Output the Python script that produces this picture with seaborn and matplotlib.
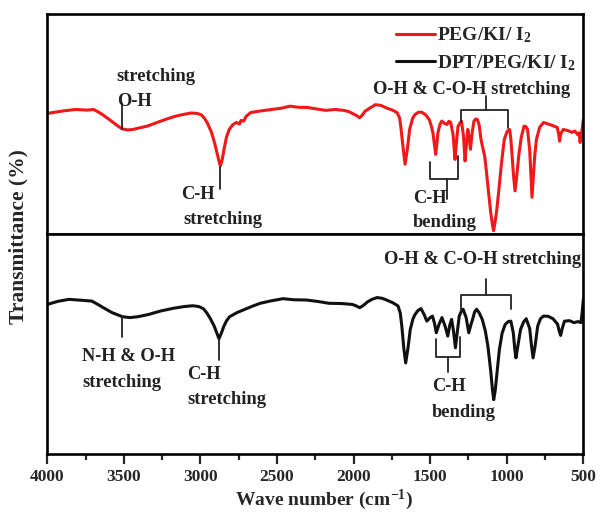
import numpy as np
import pandas as pd
import matplotlib
matplotlib.use("Agg")
import matplotlib.pyplot as plt
import seaborn as sns
from matplotlib.lines import Line2D

# ---- data ----
wn_top = [4000, 3900, 3815, 3740, 3698, 3670, 3640, 3610, 3581, 3545, 3512, 3475, 3441,
          3400, 3349, 3290, 3231, 3170, 3115, 3060, 3022, 2995, 2977, 2955, 2928, 2910,
          2893, 2880, 2870, 2858, 2846, 2830, 2812, 2790, 2765, 2745, 2735, 2718, 2700,
          2672, 2600, 2533, 2470, 2415, 2360, 2298, 2240, 2182, 2120, 2065, 2030, 1995,
          1975, 1961, 1945, 1925, 1890, 1856, 1820, 1786, 1750, 1716, 1700, 1692, 1678,
          1664, 1650, 1634, 1615, 1599, 1575, 1553, 1530, 1506, 1492, 1482, 1472, 1464,
          1456, 1449, 1435, 1424, 1405, 1390, 1378, 1366, 1350, 1338, 1328, 1318, 1305,
          1296, 1283, 1272, 1262, 1254, 1245, 1237, 1225, 1214, 1202, 1191, 1180, 1168,
          1156, 1144, 1132, 1121, 1105, 1093, 1086, 1078, 1065, 1051, 1033, 1016, 998,
          981, 973, 965, 955, 946, 935, 922, 905, 887, 875, 864, 850, 840, 835, 828, 818,
          806, 785, 759, 725, 689, 670, 660, 655, 648, 631, 600, 574, 555, 538, 528, 521,
          512, 500]
t_top = [54.8, 55.9, 56.6, 56.3, 56.6, 55.6, 54.3, 52.8, 51.3, 49.4, 47.8, 47.3, 47.5,
         48.2, 49.0, 50.5, 52.0, 53.4, 54.3, 55.0, 54.8, 54.2, 52.9, 50.5, 46.2, 42.0,
         37.1, 33.5, 30.9, 33.8, 38.5, 44.0, 47.5, 49.6, 50.7, 50.0, 51.6, 51.3, 53.6,
         55.2, 56.0, 56.6, 57.2, 58.1, 57.6, 57.5, 56.8, 56.2, 56.6, 56.2, 55.6, 54.3,
         53.6, 52.8, 53.9, 55.8, 57.4, 58.8, 58.4, 57.3, 56.4, 55.2, 52.8, 49.0, 40.0,
         31.7, 38.0, 47.5, 52.5, 54.3, 55.4, 55.3, 54.2, 52.0, 49.0, 46.0, 40.5, 36.2,
         41.0, 46.2, 50.0, 51.3, 50.2, 49.8, 51.2, 50.7, 45.0, 33.9, 42.0, 49.0, 50.4,
         51.3, 45.0, 33.2, 42.0, 47.5, 43.5, 38.5, 46.5, 51.3, 52.3, 52.0, 49.5, 43.0,
         39.0, 35.4, 28.0, 20.4, 10.0, 4.0, 1.5, 4.5, 11.0, 20.4, 33.0, 43.0, 46.5,
         47.5, 43.0, 35.4, 26.0, 19.6, 26.0, 35.4, 44.0, 49.0, 48.8, 47.5, 38.0, 24.0,
         16.7, 24.0, 35.0, 43.0, 48.5, 50.7, 49.9, 49.0, 48.4, 45.0, 42.2, 45.5, 47.5,
         47.0, 46.2, 46.8, 45.2, 46.0, 41.6, 45.5, 52.0]

wn_bot = [4000, 3930, 3859, 3780, 3709, 3670, 3634, 3575, 3509, 3460, 3409, 3340, 3260,
          3180, 3109, 3050, 3009, 2980, 2959, 2935, 2910, 2893, 2879, 2863, 2847, 2830,
          2810, 2760, 2709, 2660, 2610, 2540, 2460, 2390, 2309, 2230, 2160, 2080, 2010,
          1985, 1960, 1935, 1910, 1880, 1847, 1815, 1785, 1745, 1710, 1695, 1685, 1672,
          1660, 1645, 1630, 1612, 1598, 1580, 1560, 1540, 1522, 1500, 1485, 1472, 1460,
          1442, 1423, 1402, 1385, 1372, 1360, 1348, 1335, 1322, 1310, 1296, 1285, 1265,
          1248, 1235, 1223, 1210, 1197, 1180, 1160, 1140, 1123, 1105, 1093, 1085, 1075,
          1062, 1048, 1030, 1010, 990, 973, 957, 948, 940, 930, 910, 890, 873, 850, 838,
          828, 815, 798, 780, 760, 730, 698, 668, 658, 648, 638, 623, 590, 561, 535, 516,
          508, 500]
t_bot = [68.0, 69.4, 70.3, 69.9, 69.5, 68.0, 66.5, 64.2, 62.4, 62.0, 62.4, 63.4, 65.0,
         66.2, 67.0, 67.4, 67.0, 66.0, 64.2, 61.5, 58.1, 55.0, 52.4, 55.0, 58.1, 60.5,
         62.4, 64.3, 65.8, 67.2, 68.5, 69.6, 70.6, 70.1, 70.0, 69.3, 68.5, 68.4, 68.0,
         67.4, 66.5, 67.6, 69.1, 70.3, 71.1, 70.8, 70.0, 68.8, 67.3, 64.0, 58.1, 48.0,
         41.4, 48.0, 56.6, 61.5, 63.5, 65.2, 66.1, 63.5, 60.4, 62.0, 62.7, 59.5, 55.1,
         59.0, 62.0, 58.0, 53.6, 58.5, 61.2, 56.0, 48.3, 56.0, 62.7, 65.0, 65.8, 62.0,
         55.1, 58.5, 61.2, 64.5, 65.8, 64.2, 61.2, 56.0, 49.0, 38.0, 29.0, 24.7, 29.0,
         38.0, 47.5, 55.0, 58.9, 60.2, 60.4, 55.0, 48.0, 43.7, 48.0, 56.6, 60.0, 61.5,
         57.0, 49.0, 43.7, 49.0, 58.1, 61.5, 62.7, 62.6, 61.5, 59.0, 56.0, 53.9, 57.0,
         60.4, 60.6, 59.7, 60.2, 59.7, 64.0, 70.3]

series_labels = ["PEG/KI/ I$_2$", "DPT/PEG/KI/ I$_2$"]
xticks = [4000, 3500, 3000, 2500, 2000, 1500, 1000, 500]

RED = "#f01818"
BLACK = "#111111"

sns.set_theme(style="white")
plt.rcParams["font.family"] = ["Liberation Serif", "DejaVu Serif"]
plt.rcParams["font.weight"] = "bold"
plt.rcParams["mathtext.fontset"] = "custom"
plt.rcParams["mathtext.rm"] = "Liberation Serif:bold"
plt.rcParams["mathtext.bf"] = "Liberation Serif:bold"
plt.rcParams["mathtext.it"] = "Liberation Serif:bold"

fig, (ax1, ax2) = plt.subplots(2, 1, figsize=(6, 5.14), dpi=100, sharex=True)
fig.subplots_adjust(left=0.0788, right=0.9722, top=0.9728, bottom=0.1167, hspace=0)

df_top = pd.DataFrame({"wn": wn_top, "T": t_top})
df_bot = pd.DataFrame({"wn": wn_bot, "T": t_bot})
sns.lineplot(data=df_top, x="wn", y="T", ax=ax1, color=RED, lw=2.2, estimator=None, sort=False)
sns.lineplot(data=df_bot, x="wn", y="T", ax=ax2, color=BLACK, lw=2.2, estimator=None, sort=False)

for ax in (ax1, ax2):
    ax.set_ylim(0, 100)
    ax.set_yticks([])
    ax.set_ylabel("")
    ax.set_xlabel("")
    for s in ax.spines.values():
        s.set_linewidth(1.9)
        s.set_color("black")

ax2.set_xlim(4000, 500)
ax2.set_xticks(xticks)
ax2.set_xticks([3750, 3250, 2750, 2250, 1750, 1250, 750], minor=True)
ax2.tick_params(axis="x", which="major", direction="out", length=7, width=1.6,
                labelsize=12.5, pad=4, bottom=True)
ax2.tick_params(axis="x", which="minor", direction="out", length=4.5, width=1.6, bottom=True)
for lab in ax2.get_xticklabels():
    lab.set_fontweight("bold")
ax1.tick_params(axis="x", which="both", bottom=False, labelbottom=False)

fs = 13.3
kw = dict(fontsize=fs, fontweight="bold", color="#222222")
lkw = dict(color="#222222", lw=1.3)

# ---- top panel annotations ----
ax1.text(3547, 71.6, "stretching", ha="left", va="center", **kw)
ax1.text(3547, 60.3, "O-H", ha="left", va="center", **kw)
ax1.plot([3512, 3512], [59.6, 47.8], **lkw)
ax1.plot([2870, 2870], [30.3, 20.4], **lkw)
ax1.text(3127, 18.1, "C-H", ha="left", va="center", **kw)
ax1.text(3114, 6.8, "stretching", ha="left", va="center", **kw)
ax1.plot([1501, 1501, 1321, 1321], [32.7, 24.9, 24.9, 35.3], **lkw)
ax1.plot([1390, 1390], [24.9, 15.8], **lkw)
ax1.text(1612, 16.3, "C-H", ha="left", va="center", **kw)
ax1.text(1612, 5.0, "bending", ha="left", va="center", **kw)
ax1.text(1227, 65.6, "O-H & C-O-H stretching", ha="center", va="center", **kw)
ax1.plot([1300, 1300, 995, 995], [50.7, 56.2, 56.2, 48.4], **lkw)
ax1.plot([1133, 1133], [56.2, 62.6], **lkw)

handles = [Line2D([], [], color=RED, lw=2.2), Line2D([], [], color=BLACK, lw=2.2)]
leg = ax1.legend(handles, series_labels, loc="upper right", bbox_to_anchor=(1.008, 1.0),
                 frameon=False, fontsize=14, handlelength=2.0, handletextpad=0.1,
                 labelspacing=0.4, borderaxespad=0.2)
for t in leg.get_texts():
    t.set_fontweight("bold")

# ---- bottom panel annotations ----
ax2.text(1160, 88.6, "O-H & C-O-H stretching", ha="center", va="center", **kw)
ax2.plot([1299, 1299, 972, 972], [64.4, 72.1, 72.1, 65.8], **lkw)
ax2.plot([1135, 1135], [72.1, 79.5], **lkw)
ax2.text(3773, 44.3, "N-H & O-H", ha="left", va="center", **kw)
ax2.text(3773, 32.4, "stretching", ha="left", va="center", **kw)
ax2.plot([3514, 3514], [62.6, 53.4], **lkw)
ax2.plot([2879, 2879], [52.1, 42.9], **lkw)
ax2.text(3085, 36.1, "C-H", ha="left", va="center", **kw)
ax2.text(3085, 24.7, "stretching", ha="left", va="center", **kw)
ax2.plot([1462, 1462, 1305, 1305], [52.1, 44.3, 44.3, 53.0], **lkw)
ax2.plot([1385, 1385], [44.3, 37.4], **lkw)
ax2.text(1488, 30.6, "C-H", ha="left", va="center", **kw)
ax2.text(1488, 18.7, "bending", ha="left", va="center", **kw)

fig.text(0.5400, 1 - 500 / 514, "Wave number (cm$^{-1}$)", ha="center", va="center",
         fontsize=14, fontweight="bold")
fig.text(0.030, 1 - 237 / 514, "Transmittance (%)", ha="center", va="center",
         rotation=90, fontsize=15.5, fontweight="bold")

fig.savefig("out.png", dpi=100, facecolor="white")
